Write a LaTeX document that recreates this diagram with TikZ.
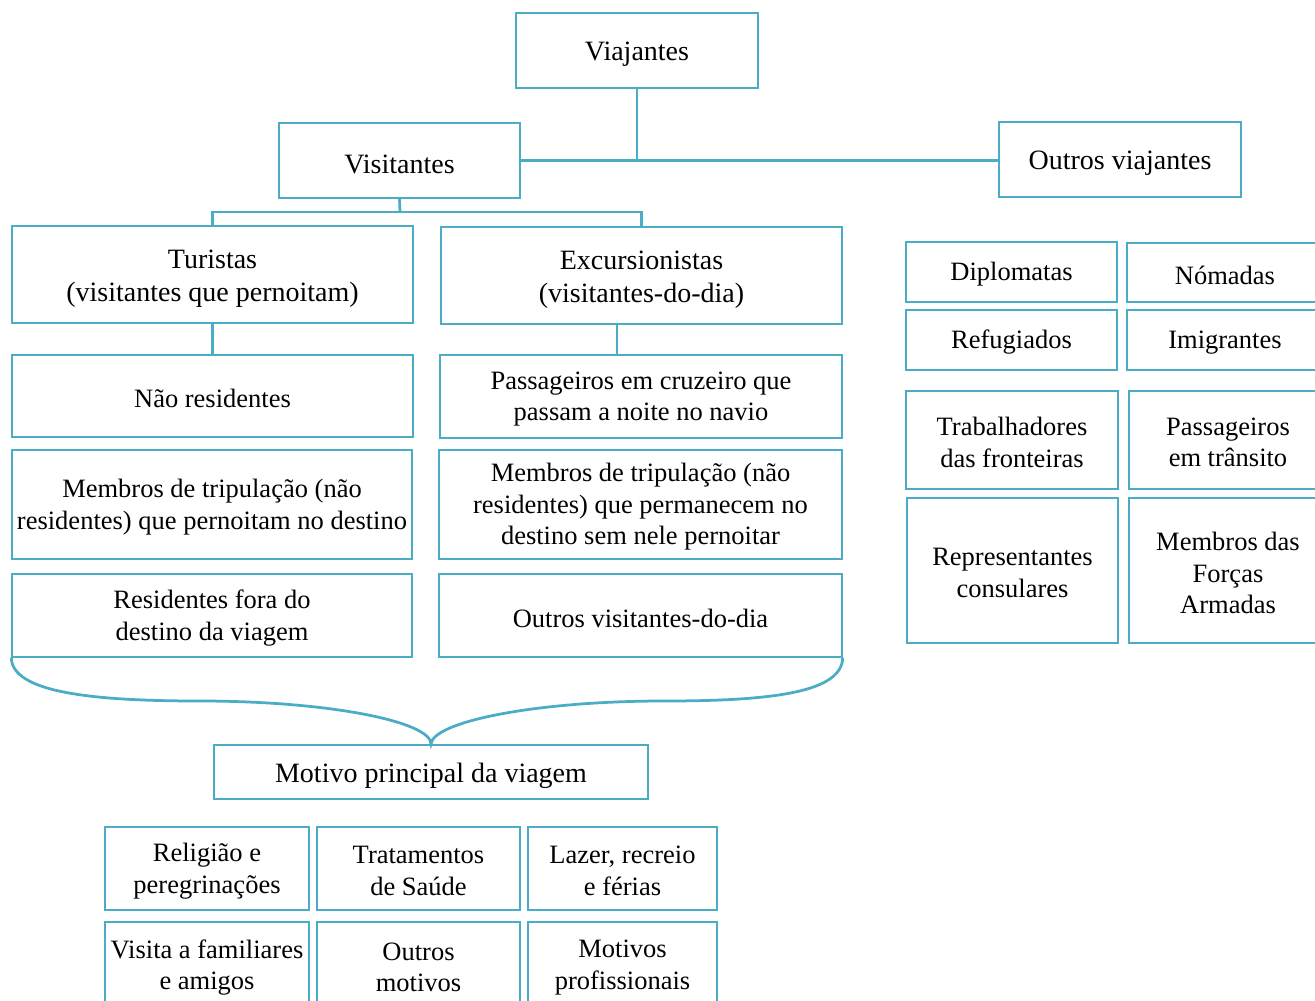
\documentclass[tikz,border=0pt]{standalone}
\usepackage{fontspec}
\setmainfont{Liberation Serif}
\definecolor{accent}{HTML}{4BACC6}
\tikzset{
  box/.style={draw=accent, line width=0.55pt, fill=white, inner sep=0pt},
  label/.style={inner sep=0pt, align=center, yshift=-1pt,
    font=\fontsize{10.6pt}{12.6pt}\selectfont},
  head/.style={yshift=-0.5pt, font=\fontsize{11.2pt}{13.2pt}\selectfont},
  conn/.style={draw=accent, line width=1.1pt},
}
% box with corners (x1,y1)-(x2,y2) in picture units, text set slightly low
\newcommand\bx[7][]{%
  \node[box, minimum width={(#5-#3)*0.4pt}, minimum height={(#6-#4)*0.4pt}]
    (#2) at ({(#3+#5)/2},{(#4+#6)/2}) {};
  \node[label,#1] at (#2.center) {#7};}
\begin{document}
\begin{tikzpicture}[x=0.4pt,y=-0.4pt]
\clip (0,0) rectangle (1315,1001);
\fill[white] (0,0) rectangle (1315,1001);

% top levels
\bx[head]{via}{516}{13}{758}{88}{Viajantes}
\bx[head]{vis}{279}{123}{520}{198}{Visitantes}
\bx[head]{out}{999}{122}{1241}{197}{Outros viajantes}

% visitors
\bx[head]{tur}{12}{226}{413}{323}{Turistas\\(visitantes que pernoitam)}
\bx[head]{exc}{441}{227}{842}{324}{Excursionistas\\(visitantes-do-dia)}
\bx{nres}{12}{355}{413}{437}{Não residentes}
\bx{cruz}{440}{355}{842}{438}{Passageiros em cruzeiro que\\passam a noite no navio}
\bx{tripl}{12}{450}{412}{559}{Membros de tripulação (não\\residentes) que pernoitam no destino}
\bx{tripr}{439}{450}{842}{559}{Membros de tripulação (não\\residentes) que permanecem no\\destino sem nele pernoitar}
\bx{resf}{12}{574}{412}{657}{Residentes fora do\\destino da viagem}
\bx{outd}{439}{574}{842}{657}{Outros visitantes-do-dia}

% other travellers
\bx{dipl}{906}{242}{1117}{302}{Diplomatas}
\bx{noma}{1127}{243}{1323}{302}{Nómadas}
\bx{refu}{906}{310}{1117}{370}{Refugiados}
\bx{imig}{1127}{310}{1323}{370}{Imigrantes}
\bx{trab}{906}{391}{1118}{489}{Trabalhadores\\das fronteiras}
\bx{pass}{1129}{391}{1327}{489}{Passageiros\\em trânsito}
\bx{repr}{907}{498}{1118}{643}{Representantes\\consulares}
\bx{forc}{1129}{498}{1327}{643}{Membros das\\Forças\\Armadas}

% purpose of the trip
\bx[head]{moti}{214}{745}{648}{799}{Motivo principal da viagem}
\bx{reli}{105}{827}{309}{910}{Religião e\\peregrinações}
\bx{trat}{317}{827}{520}{910}{Tratamentos\\de Saúde}
\bx{laze}{528}{827}{717}{910}{Lazer, recreio\\e férias}
\bx{visi}{105}{922}{309}{1008}{Visita a familiares\\e amigos}
\bx{outm}{317}{922}{520}{1008}{Outros\\motivos}
\bx{prof}{528}{922}{717}{1008}{Motivos\\profissionais}

% connectors
\draw[conn] (vis.east) -- (vis.east -| out.west);
\draw[conn] (via.south) -- (via.south |- vis.east);
\coordinate (j) at (400,212);
\draw[conn] (vis.south) -- (j);
\draw[conn] (tur.north) |- (j) -| (exc.north);
\draw[conn] (tur.south) -- (nres.north);
\coordinate (ex) at (617,0);
\draw[conn] (exc.south -| ex) -- (cruz.north -| ex);

% brace gathering both groups onto the purpose box
\draw[conn] (resf.south west)
  .. controls (12,692) and (90,701) .. (200,701)
  .. controls (330,701) and (432,722) .. (moti.north)
  .. controls (432,722) and (534,701) .. (664,701)
  .. controls (774,701) and (842,692) .. (outd.south east);
\end{tikzpicture}
\end{document}
